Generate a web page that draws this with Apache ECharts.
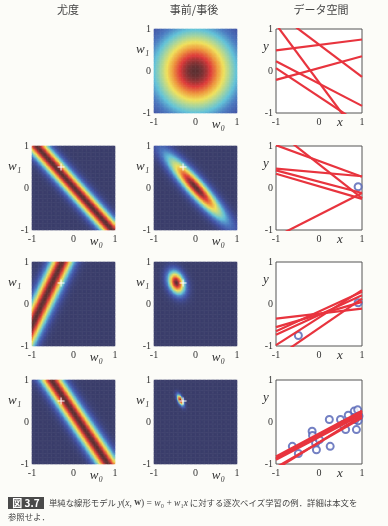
<!DOCTYPE html>
<html><head><meta charset="utf-8">
<script src="https://cdn.jsdelivr.net/npm/echarts@6/dist/echarts.min.js"></script>
<style>html,body{margin:0;padding:0;background:#fcfcf8;}#c{width:388px;height:526px;}</style>
</head><body><div id="c"></div>
<script>
// ---- data ----
const columnTitles = ['尤度', '事前/事後', 'データ空間'];
const tickValues = [-1, 0, 1];
const trueW = [-0.3, 0.5];             // true parameters (white +)
const alphaPrior = 2.0;                // prior precision
const betaNoise = 25.0;                // noise precision
const obsX = [0.91, -0.48, -0.62, -0.16, -0.15, -0.08, -0.06, 0.01, 0.24, 0.26, 0.50, 0.56, 0.62, 0.82, 0.90, 0.84, 0.87, 0.93, 0.80, 0.68];
const obsT = [0.03, -0.75, -0.58, -0.22, -0.32, -0.50, -0.66, -0.42, 0.06, -0.58, 0.06, -0.06, -0.18, 0.26, 0.29, 0.06, -0.18, 0.14, 0.10, 0.16];
const rowCounts = [0, 1, 2, 20];       // observations used in each row
// sampled lines in data space: y at x=-1 and y at x=1
const sampleYLeft = [
  [1.11, 1.40, 0.49, -0.21, 0.23, 0.07],
  [1.02, 1.37, 0.46, 0.42, 0.34, -1.16],
  [-0.35, -0.65, -0.73, -0.98, -1.28, -0.55],
  [-0.82, -0.86, -0.88, -0.90, -1.12, -1.08]
];
const sampleYRight = [
  [-1.65, -0.14, 0.75, 0.35, -0.83, -1.29],
  [0.27, -0.24, 0.28, -0.12, -0.26, -0.12],
  [-0.11, 0.29, 0.21, 0.33, 0.13, 0.05],
  [0.27, 0.22, 0.25, 0.18, 0.15, 0.10]
];
const jetColors = ['#3b3e6b', '#4150a2', '#4c7ac0', '#62c2d8', '#a8d59c', '#f0e15c', '#ee983e', '#dd3a3a', '#5c3032'];

// ---- layout ----
const colLeft = [32, 154, 276];
const colWidth = [83, 83, 86];
const rowTop = [29, 146, 262, 380];
const panelH = 84;
const N = 64;

const grids = [], xAxes = [], yAxes = [], series = [], graphics = [];
const heatSeries = [];
const serif = 'Liberation Serif';
const cjk = '"Noto Sans CJK JP"';
const txtColor = '#333';

function addGrid(r, c, opts) {
  grids.push(Object.assign({left: colLeft[c], top: rowTop[r], width: colWidth[c], height: panelH}, opts || {}));
  return grids.length - 1;
}
function valueAxes(g) {
  xAxes.push({gridIndex: g, type: 'value', min: -1, max: 1, interval: 1,
    axisLine: {show: false}, axisTick: {show: false}, splitLine: {show: false},
    axisLabel: {fontFamily: serif, fontSize: 10, color: txtColor, margin: 4, formatter: v => v === -1 ? '-1' : String(v)}});
  yAxes.push({gridIndex: g, type: 'value', min: -1, max: 1, interval: 1,
    axisLine: {show: false}, axisTick: {show: false}, splitLine: {show: false},
    axisLabel: {fontFamily: serif, fontSize: 10, color: txtColor, margin: 3, formatter: v => v === -1 ? '-1' : String(v)}});
  return xAxes.length - 1;
}
const cats = Array.from({length: N}, (_, i) => i);
function catAxes(g) {
  xAxes.push({gridIndex: g, type: 'category', data: cats, show: false});
  yAxes.push({gridIndex: g, type: 'category', data: cats, show: false});
  return xAxes.length - 1;
}
function cellCenter(i) { return -1 + (i + 0.5) * 2 / N; }

function posteriorOf(n) {
  let A = [[alphaPrior, 0], [0, alphaPrior]], b = [0, 0];
  for (let k = 0; k < n; k++) {
    const p = [1, obsX[k]];
    for (let i = 0; i < 2; i++) { b[i] += betaNoise * p[i] * obsT[k]; for (let j = 0; j < 2; j++) A[i][j] += betaNoise * p[i] * p[j]; }
  }
  const det = A[0][0] * A[1][1] - A[0][1] * A[1][0];
  const m = [(A[1][1] * b[0] - A[0][1] * b[1]) / det, (-A[1][0] * b[0] + A[0][0] * b[1]) / det];
  return {A, m};
}

function addHeat(r, c, valueFn) {
  const g = addGrid(r, c);
  const ai = catAxes(g);
  const data = [];
  for (let i = 0; i < N; i++) for (let j = 0; j < N; j++) data.push([i, j, valueFn(cellCenter(i), cellCenter(j))]);
  series.push({type: 'heatmap', xAxisIndex: ai, yAxisIndex: ai, data, progressive: 0, silent: true,
    itemStyle: {borderWidth: 0}, emphasis: {disabled: true}});
  heatSeries.push(series.length - 1);
  const g2 = addGrid(r, c);
  const vi = valueAxes(g2);
  if (r > 0) {
    series.push({type: 'scatter', xAxisIndex: vi, yAxisIndex: vi, data: [trueW], silent: true,
      symbol: 'path://M3,0h1v3h3v1h-3v3h-1v-3h-3v-1h3z', symbolSize: 7, itemStyle: {color: '#ffffff', opacity: 1}});
  }
  const L = colLeft[c], T = rowTop[r];
  const off = c === 0 ? 17 : 11;
  graphics.push({type: 'text', left: L - off - 7, top: T + 14, style: {text: 'w₁', font: 'italic 13px ' + serif, fill: txtColor}});
  graphics.push({type: 'text', left: L + 0.78 * colWidth[c] - 7, top: T + panelH + 5, style: {text: 'w₀', font: 'italic 13px ' + serif, fill: txtColor}});
}

for (let r = 0; r < 4; r++) {
  const n = rowCounts[r];
  // likelihood
  if (n > 0) {
    const xn = obsX[n - 1], tn = obsT[n - 1];
    addHeat(r, 0, (w0, w1) => { const e = tn - w0 - w1 * xn; return Math.exp(-0.5 * betaNoise * e * e); });
  }
  // prior / posterior
  const post = posteriorOf(n);
  addHeat(r, 1, (w0, w1) => {
    const d0 = w0 - post.m[0], d1 = w1 - post.m[1];
    const q = post.A[0][0] * d0 * d0 + 2 * post.A[0][1] * d0 * d1 + post.A[1][1] * d1 * d1;
    return Math.exp(-0.5 * q);
  });
  // data space
  const g = addGrid(r, 2, {show: true, borderColor: '#555', borderWidth: 1, backgroundColor: '#ffffff'});
  const vi = valueAxes(g);
  for (let k = 0; k < sampleYLeft[r].length; k++) {
    series.push({type: 'line', xAxisIndex: vi, yAxisIndex: vi, clip: true, showSymbol: false, silent: true,
      data: [[-1, sampleYLeft[r][k]], [1, sampleYRight[r][k]]],
      lineStyle: {color: '#e8343e', width: 2.2}});
  }
  if (n > 0) {
    series.push({type: 'scatter', xAxisIndex: vi, yAxisIndex: vi, silent: true,
      data: obsX.slice(0, n).map((x, k) => [x, obsT[k]]),
      symbol: 'emptyCircle', symbolSize: 7, itemStyle: {color: '#5060b4', borderWidth: 1}});
  }
  const L = colLeft[2], T = rowTop[r];
  graphics.push({type: 'text', left: L - 13, top: T + 11, style: {text: 'y', font: 'italic 13px ' + serif, fill: txtColor}});
  graphics.push({type: 'text', left: L + 0.756 * colWidth[2] - 4, top: T + panelH + 3, style: {text: 'x', font: 'italic 13px ' + serif, fill: txtColor}});
}

// column titles
const titleCenters = [68, 194, 321];
columnTitles.forEach((t, i) => {
  graphics.push({type: 'text', x: titleCenters[i], y: 10, style: {text: t, font: '11px ' + cjk, fill: '#444', textAlign: 'center', textVerticalAlign: 'middle'}});
});

// caption
graphics.push({type: 'rect', shape: {x: 8, y: 497, width: 36, height: 12}, style: {fill: '#4a4a4a'}});
graphics.push({type: 'text', x: 26, y: 503, style: {text: '図 3.7', font: 'bold 10px ' + cjk, fill: '#ffffff', textAlign: 'center', textVerticalAlign: 'middle'}});
graphics.push({type: 'text', x: 49, y: 503, style: {
  text: '{n|単純な線形モデル }{i|y}{m|(}{i|x}{m|, }{b|w}{m|) = }{i|w}{m|₀ + }{i|w}{m|₁}{i|x}{n| に対する逐次ベイズ学習の例．詳細は本文を}',
  textVerticalAlign: 'middle',
  rich: {
    n: {fontFamily: cjk, fontSize: 8.4, fill: '#444'},
    m: {fontFamily: serif, fontSize: 9.5, fill: '#444'},
    i: {fontFamily: serif, fontStyle: 'italic', fontSize: 9.5, fill: '#444'},
    b: {fontFamily: serif, fontWeight: 'bold', fontSize: 9.5, fill: '#444'}
  }}});
graphics.push({type: 'text', x: 8, y: 517, style: {text: '参照せよ．', font: '8.4px ' + cjk, fill: '#444', textVerticalAlign: 'middle'}});

const chart = echarts.init(document.getElementById('c'), null, {renderer: 'canvas'});
chart.setOption({
  animation: false,
  backgroundColor: '#fcfcf8',
  grid: grids, xAxis: xAxes, yAxis: yAxes,
  visualMap: {type: 'continuous', show: false, min: 0, max: 1, seriesIndex: heatSeries, inRange: {color: jetColors}},
  series: series,
  graphic: graphics
});
</script>
</body></html>
